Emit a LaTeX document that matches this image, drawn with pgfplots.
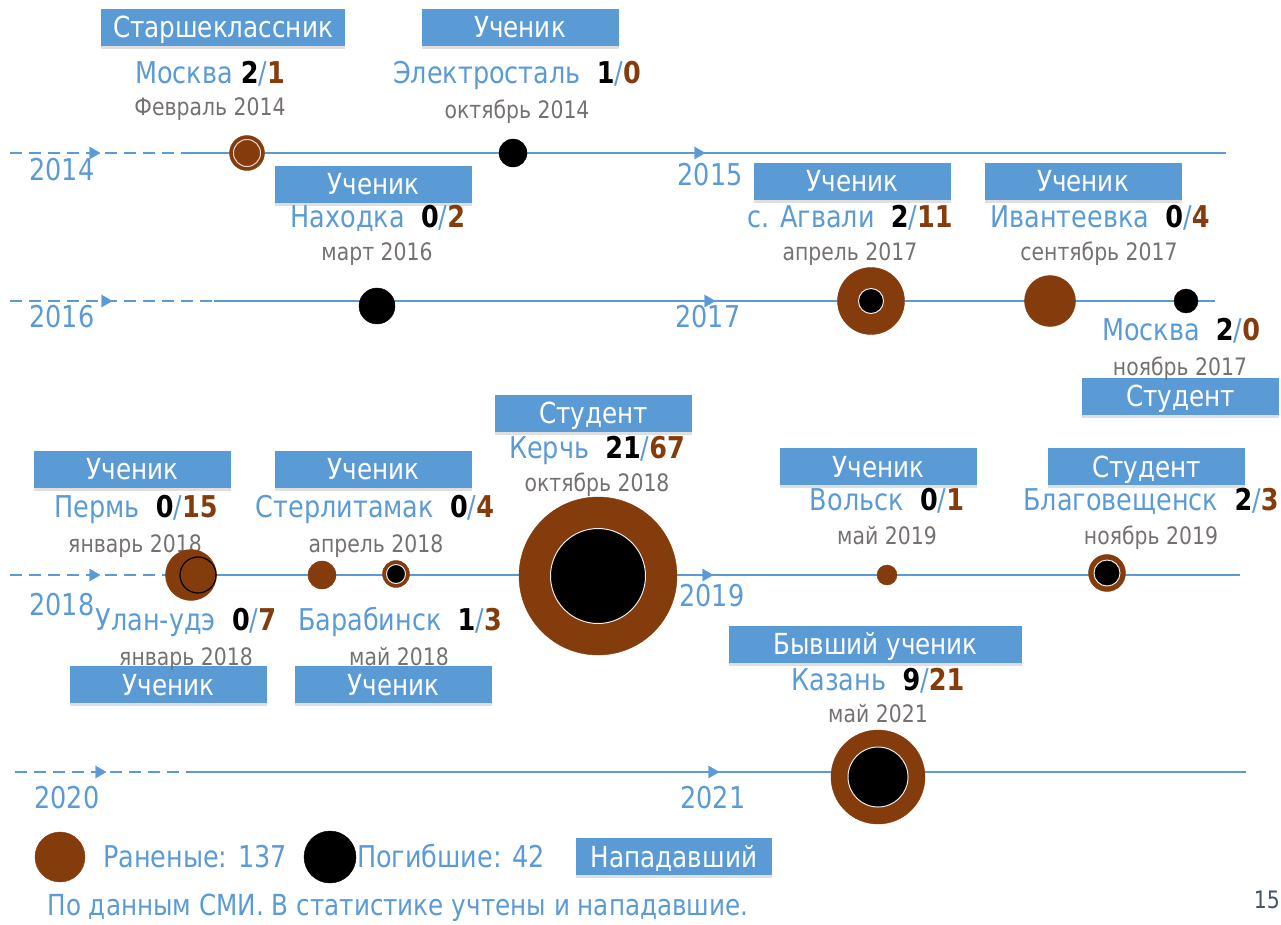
\documentclass[border=0pt]{standalone}
\usepackage{pgfplots}
\pgfplotsset{compat=1.18}
\usepackage{pgfplotstable}
\usepackage{fontspec}
\setmainfont{DejaVu Sans}[FakeStretch=0.85]
\usetikzlibrary{shadows}
\definecolor{cblue}{HTML}{5B9BD5}
\definecolor{cbrown}{HTML}{843C0C}
\definecolor{cgray}{HTML}{767171}
\definecolor{cslate}{HTML}{44546A}
\newcommand\fs[1]{\fontsize{#1}{#1}\selectfont}
\newcommand\cnt[2]{\textcolor{black}{\textbf{#1}}/\textcolor{cbrown}{\textbf{#2}}}

\pgfplotstableread{
x y r
247 153 17.5
871 301 33.5
1050 301 25.5
191 575 25.5
322 575 14
396 574 13.5
598 576 79
887 575 10
1107 573 18.5
878 777 47
60 857 25
}\injured
\pgfplotstableread{
x y r
871 301 12.5
396 574 9.5
598 576 47.5
1107 573 13
878 777 30
}\killedinner
\pgfplotstableread{
x y r
513 153 14
377 306 18
1186 301 12
330 857 26
}\killed

\pgfplotsset{
  bubble/.style={scatter, only marks, mark=*,
    point meta=\thisrow{r},
    scatter/use mapped color={#1},
    visualization depends on={\thisrow{r} \as \rad},
    scatter/@pre marker code/.append style={/tikz/mark size=\rad}},
}
\tikzset{
  city/.style={anchor=base, text=cblue, font=\fs{30}, inner sep=0pt},
  date/.style={anchor=base, text=cgray, font=\fs{24}, inner sep=0pt},
  year/.style={anchor=base, text=cblue, font=\fs{30}, inner sep=0pt},
  box/.style={fill=cblue, text=white, font=\fs{29}, minimum width=#1pt,
    minimum height=37pt, inner sep=0pt, text height=21pt, text depth=0pt,
    drop shadow={shadow xshift=0pt, shadow yshift=-3pt, fill=gray, opacity=0.25}},
  box/.default=197,
}

\begin{document}
\begin{tikzpicture}
\useasboundingbox (0,0) rectangle (1281pt,924pt);
\clip (0,0) rectangle (1281pt,924pt);
\begin{axis}[
  at={(0,0)}, anchor=south west,
  width=1281pt, height=924pt, scale only axis,
  xmin=0, xmax=1281, ymin=0, ymax=924, y dir=reverse,
  hide axis, clip=false,
]
% timelines
\addplot[cblue, line width=2pt, dash pattern=on 12pt off 7pt] coordinates {(10,153) (190,153)};
\addplot[cblue, line width=2pt] coordinates {(190,153) (1226,153)};
\addplot[cblue, line width=2pt, dash pattern=on 12pt off 7pt] coordinates {(10,301) (214,301)};
\addplot[cblue, line width=2pt] coordinates {(214,301) (1215,301)};
\addplot[cblue, line width=2pt, dash pattern=on 12pt off 7pt] coordinates {(10,575) (165,575)};
\addplot[cblue, line width=2pt] coordinates {(165,575) (1240,575)};
\addplot[cblue, line width=2pt, dash pattern=on 12pt off 7pt] coordinates {(15,772) (192,772)};
\addplot[cblue, line width=2pt] coordinates {(192,772) (1246,772)};
% arrow heads
\addplot[only marks, mark=triangle*, mark size=7, mark options={rotate=-90, fill=cblue, draw=cblue}]
  coordinates {(93,153) (698,153) (105,301) (708,301) (93,575) (706,575) (99,772) (712,772)};
% circles
\addplot[bubble={draw=cbrown, fill=cbrown}] table[x=x, y=y] {\injured};
\addplot[bubble={draw=white!85!gray, line width=1pt, fill=black}] table[x=x, y=y] {\killedinner};
\addplot[bubble={draw=black, fill=black}] table[x=x, y=y] {\killed};
\addplot[only marks, mark=o, mark size=13.5, mark options={draw=white!80!cbrown, line width=1pt}] coordinates {(247,153)};
\addplot[only marks, mark=o, mark size=18, mark options={draw=black, line width=1.2pt}] coordinates {(198,575)};

% years
\node[year] at (axis cs:62,180) {2014};
\node[year] at (axis cs:710,185) {2015};
\node[year] at (axis cs:62,327) {2016};
\node[year] at (axis cs:708,327) {2017};
\node[year] at (axis cs:62,615) {2018};
\node[year] at (axis cs:712,606) {2019};
\node[year] at (axis cs:67,808) {2020};
\node[year] at (axis cs:713,808) {2021};

% boxes
\node[box=244] at (axis cs:223,27) {Старшеклассник};
\node[box] at (axis cs:520,27) {Ученик};
\node[box] at (axis cs:373.5,184) {Ученик};
\node[box] at (axis cs:852.5,181) {Ученик};
\node[box] at (axis cs:1083,181) {Ученик};
\node[box] at (axis cs:1180.5,396) {Студент};
\node[box] at (axis cs:593.5,413) {Студент};
\node[box] at (axis cs:132.5,469) {Ученик};
\node[box] at (axis cs:373.5,469) {Ученик};
\node[box] at (axis cs:878.5,466.5) {Ученик};
\node[box] at (axis cs:1146.5,466.5) {Студент};
\node[box=293] at (axis cs:875.5,644) {Бывший ученик};
\node[box] at (axis cs:168.5,684.5) {Ученик};
\node[box] at (axis cs:393.5,684.5) {Ученик};
\node[box=196] at (axis cs:674,856.5) {Нападавший};

% cities
\node[city] at (axis cs:210,83) {Москва \cnt{2}{1}};
\node[city] at (axis cs:517,83) {Электросталь~ \cnt{1}{0}};
\node[city] at (axis cs:378,227) {Находка~ \cnt{0}{2}};
\node[city] at (axis cs:850,227) {с. Агвали~ \cnt{2}{11}};
\node[city] at (axis cs:1100,227) {Ивантеевка~ \cnt{0}{4}};
\node[city] at (axis cs:1181,340) {Москва~ \cnt{2}{0}};
\node[city] at (axis cs:597,458) {Керчь~ \cnt{21}{67}};
\node[city] at (axis cs:136,517) {Пермь~ \cnt{0}{15}};
\node[city] at (axis cs:375,517) {Стерлитамак~ \cnt{0}{4}};
\node[city] at (axis cs:887,510) {Вольск~ \cnt{0}{1}};
\node[city] at (axis cs:1151,510) {Благовещенск~ \cnt{2}{3}};
\node[city] at (axis cs:186,630) {Улан-удэ~ \cnt{0}{7}};
\node[city] at (axis cs:400,630) {Барабинск~ \cnt{1}{3}};
\node[city] at (axis cs:878,690) {Казань~ \cnt{9}{21}};

% dates
\node[date] at (axis cs:210,115) {Февраль 2014};
\node[date] at (axis cs:517,118) {октябрь 2014};
\node[date] at (axis cs:377,260) {март 2016};
\node[date] at (axis cs:850,260) {апрель 2017};
\node[date] at (axis cs:1099,260) {сентябрь 2017};
\node[date] at (axis cs:1180,375) {ноябрь 2017};
\node[date] at (axis cs:597,491) {октябрь 2018};
\node[date] at (axis cs:135,552) {январь 2018};
\node[date] at (axis cs:376,552) {апрель 2018};
\node[date] at (axis cs:887,544) {май 2019};
\node[date] at (axis cs:1151,544) {ноябрь 2019};
\node[date] at (axis cs:186,665) {январь 2018};
\node[date] at (axis cs:399,665) {май 2018};
\node[date] at (axis cs:878,722) {май 2021};

% legend and footer
\node[city] at (axis cs:195,867) {Раненые: 137};
\node[city] at (axis cs:451,867) {Погибшие: 42};
\node[city, font=\fs{29}] at (axis cs:398,915) {По данным СМИ. В статистике учтены и нападавшие.};
\node[anchor=base east, inner sep=0pt, text=cslate, font=\fs{24}] at (axis cs:1280,908) {15};
\end{axis}
\end{tikzpicture}
\end{document}
